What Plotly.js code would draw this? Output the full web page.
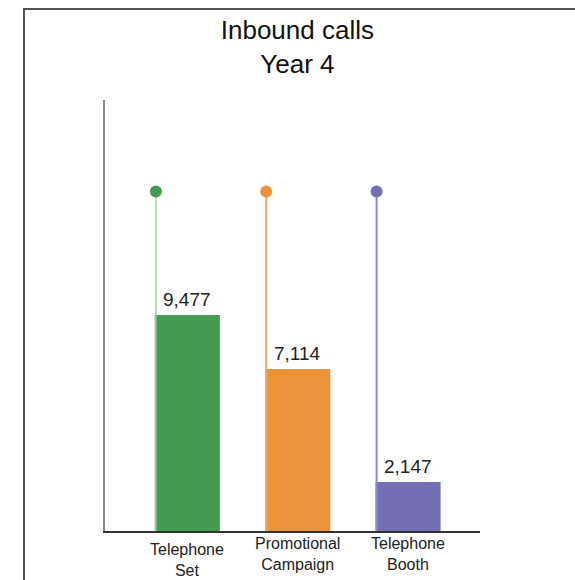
<!DOCTYPE html>
<html>
<head>
<meta charset="utf-8">
<script src="https://cdn.plot.ly/plotly-3.0.1.min.js"></script>
<style>
  html, body { margin: 0; padding: 0; background: #ffffff; }
  #wrap { position: relative; width: 575px; height: 580px; overflow: hidden; }
  #frame { position: absolute; left: 23px; top: 8px; width: 600px; height: 600px;
           border-left: 2px solid #555; border-top: 2px solid #555; box-sizing: border-box; }
  #chart { position: absolute; left: 0; top: 0; width: 575px; height: 580px; }
</style>
</head>
<body>
<div id="wrap">
  <div id="frame"></div>
  <div id="chart"></div>
</div>
<script>
// Inbound calls by source, year 4
const categories = ["Telephone<br>Set", "Promotional<br>Campaign", "Telephone<br>Booth"];
const calls = [9477, 7114, 2147];
const stemTop = [14900, 14900, 14900];

const barColors  = ["#439c50", "#ec9339", "#7470b3"];
const stemColors = ["#9fd2a0", "#efa862", "#8f89cc"];
const stemWidths = [1.5, 2, 2];
const barWidth = 0.59;
const idx = categories.map((_, i) => i);

const traces = [{
  type: "bar",
  x: idx,
  y: calls,
  width: barWidth,
  marker: { color: barColors, line: { width: 0 } },
  hoverinfo: "skip",
  showlegend: false
}];

// Pin stems rising from the left edge of each bar, capped with a dot
idx.forEach(i => {
  const xs = i - barWidth / 2 + 0.01;
  traces.push({
    type: "scatter",
    mode: "lines",
    x: [xs, xs],
    y: [0, stemTop[i]],
    line: { color: stemColors[i], width: stemWidths[i] },
    hoverinfo: "skip",
    showlegend: false
  });
  traces.push({
    type: "scatter",
    mode: "markers",
    x: [xs],
    y: [stemTop[i]],
    marker: { color: barColors[i], size: 12 },
    hoverinfo: "skip",
    showlegend: false
  });
});

const font = "Liberation Sans, Arial, Helvetica, sans-serif";

const valueLabels = idx.map(i => ({
  x: i, y: calls[i], xref: "x", yref: "y",
  text: calls[i].toLocaleString("en-US"),
  showarrow: false, yanchor: "bottom", yshift: 3,
  font: { family: font, size: 19, color: "#222" }
}));

const labelDrop = [-8, -2, -2];
const categoryLabels = idx.map(i => ({
  x: i, y: 0, xref: "x", yref: "paper",
  text: categories[i],
  showarrow: false, yanchor: "top", yshift: labelDrop[i],
  font: { family: font, size: 16, color: "#222" }
}));

const layout = {
  width: 575,
  height: 580,
  margin: { l: 105, r: 95, t: 100, b: 49 },
  paper_bgcolor: "rgba(0,0,0,0)",
  plot_bgcolor: "rgba(0,0,0,0)",
  title: {
    text: "Inbound calls<br>Year 4",
    x: 295 / 575, xanchor: "center", xref: "paper",
    y: 0.932, yanchor: "middle", yref: "container",
    font: { family: font, size: 26, color: "#111" }
  },
  xaxis: {
    range: [-0.746, 2.652],
    showgrid: false, zeroline: false, showticklabels: false, ticks: "",
    showline: true, linecolor: "#333", linewidth: 1.5, fixedrange: true
  },
  yaxis: {
    range: [0, 18921],
    showgrid: false, zeroline: false, showticklabels: false, ticks: "",
    showline: true, linecolor: "#888", linewidth: 2, fixedrange: true
  },
  annotations: valueLabels.concat(categoryLabels)
};

Plotly.newPlot("chart", traces, layout, { displayModeBar: false, staticPlot: true });
</script>
</body>
</html>
